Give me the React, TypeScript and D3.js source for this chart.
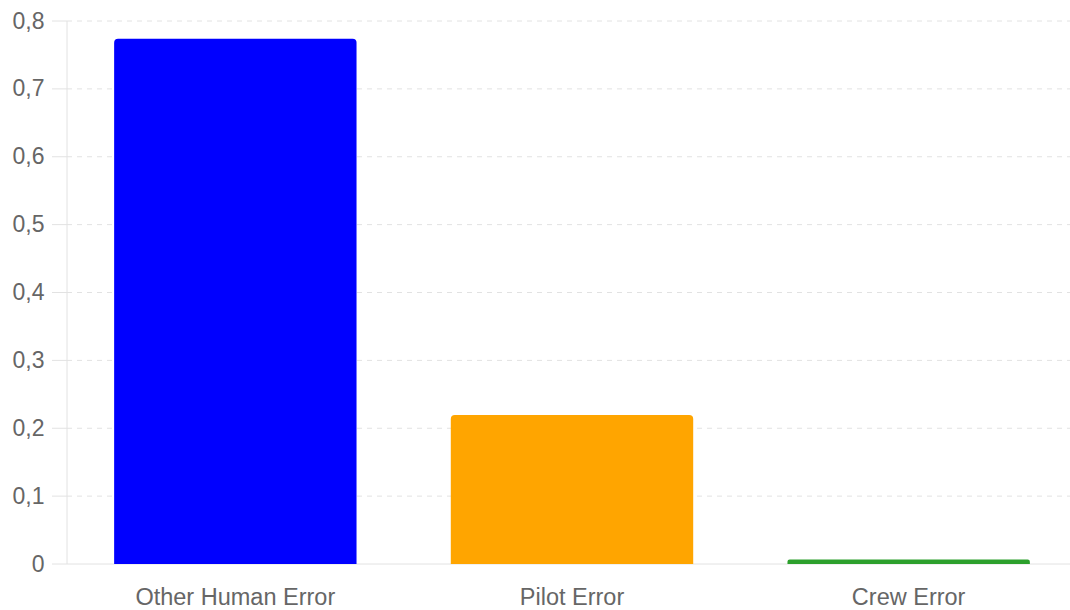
import React from "react";
import * as d3 from "d3";

const categories = ["Other Human Error", "Pilot Error", "Crew Error"];
const values = [0.774, 0.2195, 0.0066];
const colors = ["#0000ff", "#ffa500", "#2ca02c"];
const yTicks = [0, 0.1, 0.2, 0.3, 0.4, 0.5, 0.6, 0.7, 0.8];

const W = 1070;
const H = 610;
const left = 67;
const right = 1077;
const top = 21;
const bottom = 564;

function topRoundedBar(x: number, y: number, w: number, h: number, r: number) {
  const rr = Math.min(r, h / 2, w / 2);
  return `M${x},${y + h}V${y + rr}Q${x},${y} ${x + rr},${y}H${x + w - rr}Q${x + w},${y} ${x + w},${y + rr}V${y + h}Z`;
}

export default function App() {
  const x = d3.scaleBand<string>().domain(categories).range([left, right]);
  const y = d3.scaleLinear().domain([0, 0.8]).range([bottom, top]);
  const fmt = (v: number) => d3.format(".1~f")(v).replace(".", ",");
  const barW = x.bandwidth() * 0.72;
  const font = "'Liberation Sans', Arial, sans-serif";

  return (
    <svg
      width={W}
      height={H}
      style={{ position: "absolute", left: 0, top: 0, background: "#fff" }}
    >
      {yTicks.map((t) => (
        <g key={t}>
          {t > 0 && (
            <line
              x1={left}
              x2={W}
              y1={y(t)}
              y2={y(t)}
              stroke="#e2e2e2"
              strokeDasharray="5,5"
            />
          )}
          <line x1={52} x2={left} y1={y(t)} y2={y(t)} stroke="#e2e2e2" />
          <text
            x={44.5}
            y={y(t) + 7.5}
            textAnchor="end"
            fill="#666"
            fontFamily={font}
            fontSize={23}
          >
            {fmt(t)}
          </text>
        </g>
      ))}
      <line x1={left} x2={left} y1={top} y2={bottom} stroke="#e2e2e2" />
      <line x1={left} x2={W} y1={bottom} y2={bottom} stroke="#e2e2e2" />
      {categories.map((c, i) => {
        const cx = (x(c) as number) + x.bandwidth() / 2;
        const by = y(values[i]);
        return (
          <g key={c}>
            <path
              d={topRoundedBar(cx - barW / 2, by, barW, bottom - by, 4)}
              fill={colors[i]}
            />
            <text
              x={cx}
              y={605}
              textAnchor="middle"
              fill="#666"
              fontFamily={font}
              fontSize={23.5}
            >
              {c}
            </text>
          </g>
        );
      })}
    </svg>
  );
}
